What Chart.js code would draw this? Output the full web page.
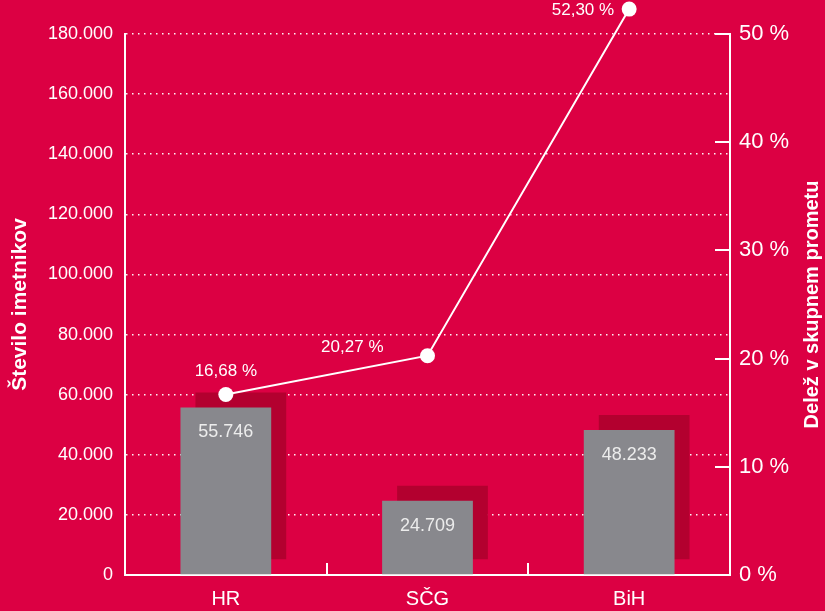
<!DOCTYPE html>
<html>
<head>
<meta charset="utf-8">
<script src="https://cdn.jsdelivr.net/npm/chart.js@4"></script>
<style>
  html, body { margin: 0; padding: 0; background: #dc0043; }
  #wrap { width: 825px; height: 611px; position: relative; }
</style>
</head>
<body>
<div id="wrap"><canvas id="c" width="825" height="611"></canvas></div>
<script>
// data
const categories = ['HR', 'SČG', 'BiH']
const holders    = [55746, 24709, 48233]      // Število imetnikov
const sharePct   = [16.68, 20.27, 52.30]      // Delež v skupnem prometu (%)
const leftTicks  = [0, 20000, 40000, 60000, 80000, 100000, 120000, 140000, 160000, 180000]
const rightTicks = [0, 10, 20, 30, 40, 50]

const FONT = "'Liberation Sans', Arial, sans-serif"
const WHITE = '#ffffff'
const BAR_GREY = '#88888d'
const SHADOW = '#b3002f'

const fmtThousands = v => String(v).replace(/\B(?=(\d{3})+(?!\d))/g, '.')
const fmtPct = v => v.toFixed(2).replace('.', ',') + ' %'

// offset shadow behind bars, using canvas shadow
const barShadow = {
  id: 'barShadow',
  beforeDatasetDraw(chart, args) {
    if (args.index !== 0) return
    const ctx = chart.ctx
    ctx.save()
    ctx.shadowColor = SHADOW
    ctx.shadowBlur = 0
    ctx.shadowOffsetX = 15
    ctx.shadowOffsetY = -15
  },
  afterDatasetDraw(chart, args) {
    if (args.index !== 0) return
    chart.ctx.restore()
  }
}

// inward ticks on right axis + category separators on x axis + right title
const axisMarks = {
  id: 'axisMarks',
  afterDatasetsDraw(chart) {
    const { ctx, chartArea, scales } = chart
    ctx.save()
    ctx.strokeStyle = WHITE
    ctx.lineWidth = 2
    scales.y1.ticks.forEach(t => {
      if (t.value === 0) return
      const y = Math.round(scales.y1.getPixelForValue(t.value))
      ctx.beginPath()
      ctx.moveTo(chartArea.right - 15, y)
      ctx.lineTo(chartArea.right, y)
      ctx.stroke()
    })
    const xs = scales.x
    for (let i = 0; i < categories.length - 1; i++) {
      const x = Math.round((xs.getPixelForTick(i) + xs.getPixelForTick(i + 1)) / 2)
      ctx.beginPath()
      ctx.moveTo(x, chartArea.bottom - 12)
      ctx.lineTo(x, chartArea.bottom)
      ctx.stroke()
    }
    // right axis title, reading bottom to top
    ctx.fillStyle = WHITE
    ctx.font = `bold 20px ${FONT}`
    ctx.textAlign = 'center'
    ctx.textBaseline = 'middle'
    ctx.translate(chart.width - 13, (chartArea.top + chartArea.bottom) / 2)
    ctx.rotate(-Math.PI / 2)
    ctx.fillText('Delež v skupnem prometu', 0, 0)
    ctx.restore()
  }
}

// value labels inside bars and next to line points
const valueLabels = {
  id: 'valueLabels',
  afterDraw(chart) {
    const ctx = chart.ctx
    ctx.save()
    ctx.textBaseline = 'middle'
    ctx.font = `18px ${FONT}`
    ctx.fillStyle = '#ececec'
    ctx.textAlign = 'center'
    chart.getDatasetMeta(0).data.forEach((bar, i) => {
      ctx.fillText(fmtThousands(holders[i]), bar.x, bar.y + 25)
    })
    ctx.font = `17px ${FONT}`
    ctx.fillStyle = WHITE
    chart.getDatasetMeta(1).data.forEach((pt, i) => {
      if (i === 0) {
        ctx.textAlign = 'center'
        ctx.fillText(fmtPct(sharePct[i]), pt.x, pt.y - 23)
      } else if (i === 1) {
        ctx.textAlign = 'right'
        ctx.fillText(fmtPct(sharePct[i]), pt.x - 44, pt.y - 8)
      } else {
        ctx.textAlign = 'right'
        ctx.fillText(fmtPct(sharePct[i]), pt.x - 15, pt.y + 1)
      }
    })
    ctx.restore()
  }
}

new Chart(document.getElementById('c'), {
  data: {
    labels: categories,
    datasets: [
      {
        type: 'bar',
        data: holders,
        yAxisID: 'y',
        backgroundColor: BAR_GREY,
        borderWidth: 0,
        barPercentage: 0.45,
        categoryPercentage: 1,
        order: 2
      },
      {
        type: 'line',
        data: sharePct,
        yAxisID: 'y1',
        borderColor: WHITE,
        borderWidth: 2,
        pointRadius: 7.5,
        pointBackgroundColor: WHITE,
        // wide transparent border so the top point above the axis is not culled
        pointBorderWidth: 22,
        pointBorderColor: 'rgba(0,0,0,0)',
        tension: 0,
        clip: false,
        order: 1
      }
    ]
  },
  options: {
    responsive: false,
    animation: false,
    layout: { padding: { top: 34, left: 0, right: 0, bottom: 0 } },
    plugins: { legend: { display: false }, tooltip: { enabled: false } },
    scales: {
      x: {
        offset: true,
        grid: { display: false, drawTicks: false },
        border: { color: WHITE, width: 2 },
        ticks: { color: WHITE, font: { family: FONT, size: 20 }, padding: 12 },
        afterFit: s => { s.height = 36 }
      },
      y: {
        position: 'left',
        min: 0, max: 180000,
        afterBuildTicks: s => { s.ticks = leftTicks.map(v => ({ value: v })) },
        grid: {
          color: ctx => ctx.tick && ctx.tick.value === 0 ? 'rgba(0,0,0,0)' : 'rgba(255,255,255,0.95)',
          lineWidth: 1.5,
          drawTicks: false
        },
        border: { color: WHITE, width: 2, dash: [1.5, 4.5], dashOffset: 0 },
        ticks: { color: WHITE, font: { family: FONT, size: 18 }, padding: 12, callback: v => fmtThousands(v) },
        title: { display: true, text: 'Število imetnikov', color: WHITE, font: { family: FONT, size: 21, weight: 'bold' }, padding: { top: 8, bottom: 0 } },
        afterFit: s => { s.width = 125 }
      },
      y1: {
        position: 'right',
        min: 0, max: 50,
        afterBuildTicks: s => { s.ticks = rightTicks.map(v => ({ value: v })) },
        grid: { display: false, drawTicks: false },
        border: { color: WHITE, width: 2 },
        ticks: { color: WHITE, font: { family: FONT, size: 22 }, padding: 9, callback: v => v + ' %' },
        afterFit: s => { s.width = 95 }
      }
    }
  },
  plugins: [barShadow, axisMarks, valueLabels]
})
</script>
</body>
</html>
